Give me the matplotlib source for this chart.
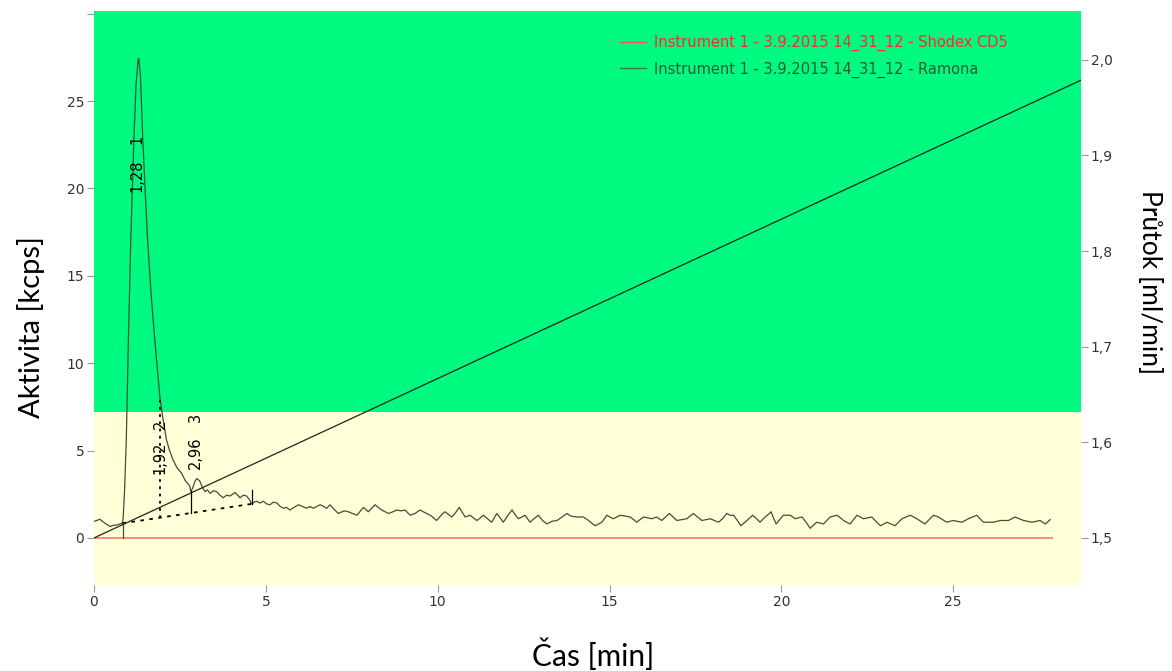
import matplotlib
matplotlib.use("Agg")
import matplotlib.pyplot as plt
from matplotlib.lines import Line2D

# Ramona detector trace (time in min, activity in kcps)
cas = [0.0, 0.08, 0.17, 0.25, 0.32, 0.40, 0.47, 0.55, 0.66, 0.75, 0.81,
       0.83, 0.85, 0.89, 0.94, 1.00, 1.07, 1.16, 1.22, 1.28, 1.30, 1.35,
       1.42, 1.49, 1.56, 1.66, 1.77, 1.86, 1.92, 2.00, 2.11, 2.20, 2.30,
       2.42, 2.55, 2.65, 2.71, 2.78, 2.82, 2.88, 2.95, 3.00, 3.08, 3.15,
       3.23, 3.30, 3.38, 3.47, 3.57, 3.66, 3.76, 3.86, 3.96, 4.10, 4.18,
       4.25, 4.35, 4.44, 4.52, 4.59, 4.66, 4.73, 4.83, 4.93, 5.02, 5.12,
       5.22, 5.32, 5.42, 5.51, 5.60, 5.70, 5.82, 5.95, 6.07, 6.19, 6.28,
       6.38, 6.48, 6.58, 6.68, 6.77, 6.87, 6.98, 7.11, 7.16, 7.28, 7.40,
       7.52, 7.65, 7.84, 7.98, 8.08, 8.18, 8.27, 8.37, 8.47, 8.57, 8.70,
       8.81, 8.93, 9.05, 9.20, 9.34, 9.49, 9.58, 9.68, 9.82, 9.97, 10.10,
       10.21, 10.31, 10.41, 10.52, 10.63, 10.72, 10.80, 10.94, 11.04, 11.14,
       11.24, 11.33, 11.45, 11.57, 11.72, 11.82, 11.91, 12.03, 12.16, 12.25,
       12.35, 12.45, 12.54, 12.69, 12.80, 12.93, 13.05, 13.18, 13.32, 13.47,
       13.62, 13.76, 13.88, 14.05, 14.24, 14.39, 14.48, 14.58, 14.68, 14.78,
       14.92, 15.01, 15.11, 15.21, 15.31, 15.45, 15.60, 15.70, 15.79, 15.89,
       15.99, 16.11, 16.23, 16.37, 16.52, 16.63, 16.74, 16.85, 16.96, 17.10,
       17.25, 17.34, 17.44, 17.56, 17.69, 17.81, 17.93, 18.05, 18.17, 18.29,
       18.41, 18.51, 18.61, 18.72, 18.82, 18.91, 19.00, 19.08, 19.17, 19.28,
       19.38, 19.45, 19.53, 19.62, 19.70, 19.78, 19.85, 19.95, 20.06, 20.16,
       20.26, 20.33, 20.40, 20.50, 20.60, 20.72, 20.84, 20.94, 21.03, 21.13,
       21.23, 21.32, 21.42, 21.52, 21.62, 21.72, 21.81, 21.90, 22.00, 22.10,
       22.20, 22.30, 22.39, 22.51, 22.63, 22.75, 22.88, 22.98, 23.07, 23.19,
       23.31, 23.41, 23.51, 23.63, 23.75, 23.85, 23.94, 24.06, 24.18, 24.30,
       24.43, 24.50, 24.57, 24.69, 24.81, 24.90, 25.00, 25.12, 25.25, 25.35,
       25.44, 25.56, 25.69, 25.78, 25.88, 26.02, 26.17, 26.27, 26.37, 26.49,
       26.61, 26.70, 26.80, 26.92, 27.05, 27.17, 27.29, 27.41, 27.53, 27.60,
       27.68, 27.75, 27.82]
aktivita = [0.95, 1.00, 1.07, 0.95, 0.84, 0.75, 0.65, 0.72, 0.74, 0.80, 0.84,
            0.84, 1.20, 2.75, 5.60, 11.30, 17.05, 22.80, 25.80, 27.30, 27.45, 26.50,
            22.80, 19.80, 17.05, 14.00, 11.30, 9.30, 8.00, 6.90, 5.60, 5.00, 4.46,
            4.00, 3.70, 3.30, 3.15, 3.00, 2.65, 2.90, 3.30, 3.40, 3.25, 2.90,
            2.65, 2.75, 2.55, 2.70, 2.65, 2.45, 2.30, 2.45, 2.40, 2.60, 2.45,
            2.30, 2.45, 2.40, 2.20, 1.95, 2.05, 2.10, 2.00, 2.10, 1.95, 1.90,
            2.05, 2.00, 1.80, 1.70, 1.75, 1.60, 1.75, 1.90, 1.80, 1.70, 1.80,
            1.70, 1.80, 1.90, 1.80, 1.70, 1.90, 1.65, 1.40, 1.45, 1.55, 1.50,
            1.40, 1.30, 1.75, 1.50, 1.70, 1.90, 1.75, 1.60, 1.50, 1.40, 1.50,
            1.60, 1.55, 1.60, 1.30, 1.40, 1.60, 1.50, 1.40, 1.25, 1.00, 1.30,
            1.50, 1.35, 1.20, 1.45, 1.75, 1.45, 1.20, 1.30, 1.15, 1.00,
            1.15, 1.30, 1.10, 0.90, 1.40, 1.15, 0.90, 1.25, 1.60, 1.35,
            1.10, 1.20, 1.30, 0.90, 1.10, 1.30, 1.00, 0.80, 0.95, 1.00,
            1.20, 1.40, 1.25, 1.20, 1.20, 1.00, 0.85, 0.70, 0.80, 0.90,
            1.30, 1.20, 1.10, 1.20, 1.30, 1.25, 1.20, 1.05, 0.90, 1.05,
            1.20, 1.15, 1.10, 1.20, 1.00, 1.20, 1.40, 1.20, 1.00, 1.05,
            1.10, 1.25, 1.40, 1.20, 1.00, 1.05, 1.10, 1.00, 0.90, 1.10,
            1.40, 1.30, 1.30, 1.00, 0.70, 0.85, 1.00, 1.15, 1.30, 1.10,
            0.90, 1.05, 1.20, 1.35, 1.50, 1.10, 0.80, 1.05, 1.30, 1.30,
            1.30, 1.20, 1.10, 1.15, 1.20, 0.90, 0.55, 0.75, 0.90, 0.85,
            0.80, 1.00, 1.20, 1.25, 1.30, 1.15, 1.00, 0.90, 0.80, 1.05,
            1.30, 1.20, 1.10, 1.15, 1.20, 0.95, 0.70, 0.80, 0.90, 0.80,
            0.70, 0.90, 1.10, 1.20, 1.30, 1.20, 1.10, 0.95, 0.80, 1.05,
            1.30, 1.25, 1.20, 1.05, 0.90, 0.95, 1.00, 0.95, 0.90, 1.00,
            1.10, 1.20, 1.30, 1.10, 0.90, 0.90, 0.90, 0.95, 1.00, 1.00,
            1.00, 1.10, 1.20, 1.10, 1.00, 0.95, 0.90, 0.95, 1.00, 0.90,
            0.80, 0.92, 1.05]

# Shodex CD5 signal stays flat at zero
shodex_cas = [0.0, 27.88]
shodex = [0.0, 0.0]

# flow gradient
prutok_cas = [0.0, 30.0]
prutok = [1.5, 2.0]

# peak integration marks
zaklad_cas = [0.83, 4.59]
zaklad = [0.84, 1.95]
pik_cas = ["1,28", "1,92", "2,96"]
pik_cislo = ["1", "2", "3"]
pik_pozice = [1.26, 1.92, 2.96]
rez_cas = [1.92, 2.81]
rez_horni = [8.0, 2.70]

zelena = "#00fa7f"
zluta = "#ffffd8"
stopa = "#3a5238"

plt.rcParams["font.family"] = ["DejaVu Sans"]

fig = plt.figure(figsize=(11.72, 6.71), dpi=100)
ax = fig.add_axes([0.0802, 0.1282, 0.8422, 0.8554])
ax2 = ax.twinx()

ax.set_facecolor(zluta)
ax.axhspan(7.2, 40, color=zelena, lw=0, zorder=0)
ax2.patch.set_visible(False)

ax.plot(shodex_cas, shodex, color="#ff8070", lw=1.3, zorder=2)
ax.plot(cas, aktivita, color=stopa, lw=0.9, zorder=3)


def base_at(t):
    k = (zaklad[1] - zaklad[0]) / (zaklad_cas[1] - zaklad_cas[0])
    return zaklad[0] + (t - zaklad_cas[0]) * k


# baseline and peak cuts
ax.plot(zaklad_cas, zaklad, color="black", lw=1.3, ls=(0, (2, 3)), zorder=4)
ax.plot([rez_cas[0], rez_cas[0]], [base_at(rez_cas[0]), rez_horni[0]],
        color="black", lw=1.3, ls=(0, (1.5, 2.5)), zorder=4)
ax.plot([rez_cas[1], rez_cas[1]], [base_at(rez_cas[1]), rez_horni[1]],
        color="black", lw=0.9, zorder=4)
ax.plot([zaklad_cas[0], zaklad_cas[0]], [0, zaklad[0]], color=stopa, lw=0.9, zorder=4)
ax.plot([zaklad_cas[1], zaklad_cas[1]], [zaklad[1], 2.75], color="black", lw=0.9, zorder=4)

label_y = [20.7, 4.6, 4.85]
num_y = [22.8, 6.5, 6.9]
for x, lab, num, ly, ny in zip(pik_pozice, pik_cas, pik_cislo, label_y, num_y):
    ax.text(x, ly, lab, rotation=90, ha="center", va="center", fontsize=10.5, zorder=5)
    ax.text(x, ny, num, rotation=90, ha="center", va="center", fontsize=10.5, zorder=5)

ax2.plot(prutok_cas, prutok, color="#222222", lw=0.9)

ax.set_xlim(0, 28.72)
ax.set_ylim(-2.69, 30.15)
ax2.set_ylim(1.4508, 2.051)

ax.set_xticks([0, 5, 10, 15, 20, 25])
ax.set_yticks([0, 5, 10, 15, 20, 25, 30])
ax.set_yticklabels(["0", "5", "10", "15", "20", "25", ""])
ax2.set_yticks([1.5, 1.6, 1.7, 1.8, 1.9, 2.0])
ax2.set_yticklabels(["1,5", "1,6", "1,7", "1,8", "1,9", "2,0"])

for a in (ax, ax2):
    for s in a.spines.values():
        s.set_visible(False)
    a.tick_params(length=5, width=0.8, color="#999999", labelcolor="#333333",
                  labelsize=10, pad=2)

lab_font = dict(family=["Lato", "DejaVu Sans"])
ax.set_xlabel("Čas [min]", fontsize=21.5, va="center", **lab_font)
ax.xaxis.set_label_coords(0.5056, -0.122)
ax.set_ylabel("Aktivita [kcps]", fontsize=21, va="center", **lab_font)
ax.yaxis.set_label_coords(-0.064, 0.449)
ax2.set_ylabel("Průtok [ml/min]", fontsize=19, rotation=-90, va="center", **lab_font)
ax2.yaxis.set_label_coords(1.069, 0.528)

handles = [Line2D([], [], color="#ff5050", lw=1),
           Line2D([], [], color="#3a7a3a", lw=1)]
leg = ax2.legend(handles,
                 ["Instrument 1 - 3.9.2015 14_31_12 - Shodex CD5",
                  "Instrument 1 - 3.9.2015 14_31_12 - Ramona"],
                 loc="upper left", bbox_to_anchor=(607 / 1172, 1 - 22 / 671),
                 bbox_transform=fig.transFigure, frameon=False, fontsize=10.5,
                 handlelength=1.8, handletextpad=0.5, labelspacing=0.7)
for txt, c in zip(leg.get_texts(), ["#ff2a2a", "#2e5a2e"]):
    txt.set_color(c)

fig.savefig("out.png", dpi=100)
